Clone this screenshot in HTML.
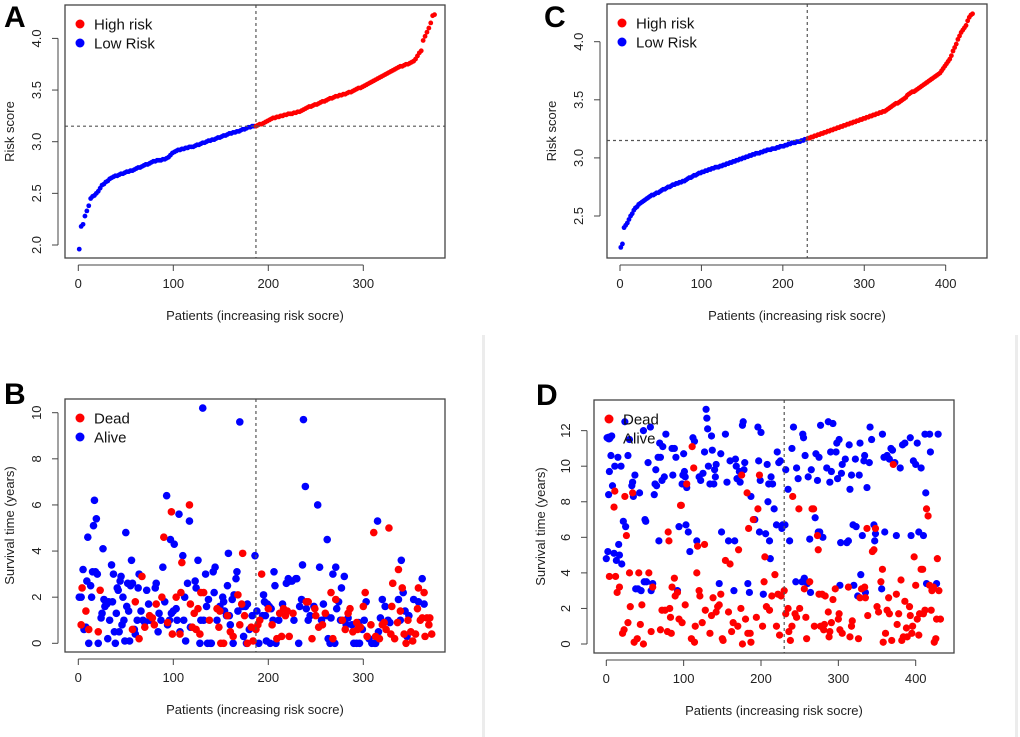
<!DOCTYPE html>
<html><head><meta charset="utf-8">
<style>
html,body{margin:0;padding:0;background:#fff;}
svg{display:block;font-family:"Liberation Sans",Arial,sans-serif;}
</style></head>
<body>
<svg id="fig" width="1020" height="737" viewBox="0 0 1020 737" xmlns="http://www.w3.org/2000/svg">
<rect x="0" y="0" width="1020" height="737" fill="#fff"/>
<rect x="482" y="335" width="3" height="402" fill="#ececec"/>
<rect x="1015" y="335" width="3" height="402" fill="#ececec"/>
</svg>
<script>
// ---- Panel A data (risk score, patients ordered; every 2nd patient) ----
const riskA = [1.96,2.18,2.2,2.28,2.33,2.38,2.45,2.47,2.48,2.5,
2.52,2.55,2.58,2.59,2.61,2.62,2.64,2.65,2.66,2.67,
2.67,2.68,2.69,2.69,2.7,2.71,2.71,2.72,2.72,2.73,
2.74,2.75,2.75,2.76,2.77,2.78,2.78,2.79,2.8,2.81,
2.81,2.82,2.82,2.82,2.83,2.83,2.84,2.85,2.87,2.89,
2.9,2.91,2.92,2.92,2.93,2.93,2.94,2.94,2.95,2.95,
2.95,2.96,2.97,2.97,2.98,2.99,2.99,3.0,3.01,3.01,
3.02,3.02,3.03,3.04,3.04,3.05,3.06,3.06,3.07,3.08,
3.08,3.09,3.09,3.1,3.1,3.11,3.12,3.12,3.13,3.14,
3.14,3.15,3.15,3.15,3.16,3.17,3.17,3.18,3.19,3.2,
3.21,3.22,3.23,3.23,3.24,3.24,3.25,3.25,3.26,3.26,
3.27,3.27,3.27,3.28,3.28,3.29,3.29,3.3,3.31,3.32,
3.33,3.34,3.34,3.35,3.36,3.36,3.37,3.38,3.39,3.39,
3.4,3.41,3.42,3.42,3.43,3.44,3.44,3.45,3.45,3.46,
3.46,3.47,3.48,3.48,3.49,3.5,3.51,3.52,3.52,3.53,
3.54,3.55,3.56,3.57,3.58,3.59,3.6,3.61,3.62,3.63,
3.64,3.65,3.66,3.67,3.68,3.69,3.7,3.71,3.72,3.73,
3.73,3.74,3.75,3.75,3.76,3.77,3.78,3.8,3.83,3.86,
3.88,3.98,4.02,4.06,4.1,4.15,4.22,4.23];
const cutA = 187;
const cutScoreA = 3.15;
// ---- Panel C data ----
const riskC = [2.23,2.26,2.4,2.42,2.44,2.47,2.5,2.52,2.55,2.57,
2.58,2.6,2.61,2.62,2.63,2.64,2.65,2.66,2.67,2.68,
2.68,2.69,2.7,2.7,2.71,2.72,2.73,2.73,2.74,2.75,
2.75,2.76,2.77,2.77,2.78,2.78,2.79,2.79,2.8,2.8,
2.81,2.82,2.83,2.83,2.84,2.85,2.85,2.86,2.87,2.87,
2.88,2.88,2.89,2.89,2.9,2.9,2.91,2.91,2.92,2.92,
2.92,2.93,2.93,2.94,2.94,2.95,2.95,2.96,2.96,2.97,
2.97,2.98,2.98,2.99,2.99,3.0,3.0,3.01,3.01,3.02,
3.02,3.03,3.03,3.04,3.04,3.04,3.05,3.05,3.06,3.06,
3.07,3.07,3.07,3.08,3.08,3.08,3.09,3.09,3.1,3.1,
3.1,3.11,3.11,3.12,3.12,3.13,3.13,3.13,3.14,3.14,
3.14,3.15,3.15,3.16,3.16,3.17,3.17,3.18,3.18,3.19,
3.19,3.2,3.2,3.21,3.21,3.22,3.22,3.23,3.23,3.24,
3.24,3.25,3.25,3.26,3.26,3.27,3.27,3.28,3.28,3.29,
3.29,3.3,3.3,3.31,3.31,3.32,3.32,3.33,3.33,3.34,
3.34,3.35,3.35,3.36,3.36,3.37,3.37,3.38,3.38,3.39,
3.39,3.4,3.4,3.41,3.42,3.43,3.44,3.45,3.46,3.47,
3.47,3.48,3.49,3.5,3.51,3.52,3.54,3.55,3.56,3.57,
3.57,3.58,3.59,3.6,3.61,3.62,3.63,3.64,3.65,3.66,
3.67,3.68,3.69,3.7,3.71,3.72,3.73,3.75,3.77,3.79,
3.81,3.83,3.85,3.88,3.92,3.95,3.98,4.02,4.05,4.08,
4.1,4.12,4.14,4.18,4.21,4.23,4.24];
const cutC = 230;
const cutScoreC = 3.15;
// ---- Panel B data: [patient, years] ----
const aliveB = [[1,2],[3,2],[5,3.2],[6,0.6],[8,0.7],[9,2.7],[10,4.6],[11,0],[13,2.5],[14,2],[15,3.1],[16,5.1],[17,6.2],[18,3.1],[19,5.4],[20,3],[21,0],[24,1.1],[25,1.3],[26,4.1],[27,1.9],[28,1.6],[29,1.8],[30,1.7],[31,0.2],[32,1.8],[33,1],[35,3.4],[36,1.8],[37,3],[38,0.5],[39,0],[40,1.3],[41,2.4],[42,2.3],[43,0.5],[44,2.7],[45,2.9],[46,0.8],[47,2],[48,1],[49,0.1],[50,4.8],[51,1.6],[52,2.6],[53,1.4],[54,0.1],[55,2.5],[56,3.6],[57,2.6],[59,0.6],[60,0.4],[62,1],[63,2.4],[64,3],[66,1.4],[68,1],[70,0.9],[72,2.3],[74,1.7],[75,1],[77,1],[81,2.4],[82,2.6],[84,0.5],[85,1.3],[87,1],[89,3.3],[91,1.8],[93,6.4],[94,0.8],[96,1],[97,4.5],[98,1.3],[100,1.4],[101,4.3],[103,1.5],[104,1],[106,5.6],[107,0.5],[110,3.8],[111,1],[112,2],[113,0.1],[115,2.6],[117,5.3],[118,0.7],[123,2.7],[124,2.4],[126,3.6],[128,0],[129,1],[131,10.2],[132,1],[134,3],[135,1.6],[136,0],[137,1.9],[139,0],[140,0],[142,3.1],[143,2.2],[144,3.3],[146,1],[149,1.6],[152,2],[153,1.8],[154,1.4],[156,1.2],[157,2.5],[158,3.9],[159,1.2],[160,0.8],[162,1.9],[163,0],[164,2.1],[166,2.8],[167,3.1],[168,1.4],[170,9.6],[173,1.6],[174,0.3],[176,1.6],[177,0],[178,1.7],[180,0.6],[183,1.2],[186,3.8],[188,1.4],[190,0],[194,1.2],[195,2.1],[196,1.8],[197,1.2],[198,0.1],[199,1.7],[201,1.6],[202,0],[203,1.5],[205,1],[206,3.1],[207,2.5],[208,0],[211,1],[215,1.7],[219,2.6],[221,2.8],[223,2.7],[225,2.7],[227,1],[229,2.8],[230,2.8],[232,0],[233,1.6],[235,1.9],[236,3.4],[237,9.7],[239,6.8],[240,1.5],[242,1],[244,1.2],[248,1.6],[252,6],[254,3.3],[256,1],[258,1.7],[261,1.2],[262,4.5],[263,0.2],[265,0],[266,1.1],[268,3],[270,0],[271,3.3],[272,1.5],[274,1.8],[276,1],[277,2.4],[280,2.9],[282,0.8],[284,1.1],[288,0.8],[290,0],[293,0],[295,0.9],[296,0],[299,0.6],[301,1],[303,1.8],[306,0.2],[309,0],[312,0],[313,0],[315,5.3],[316,0.5],[318,1.1],[320,1.9],[323,1.6],[326,1],[328,0.9],[337,1.9],[339,1],[340,3.6],[342,2.2],[344,1.4],[346,0.3],[348,1.2],[353,1.9],[358,1.8],[362,2.8],[364,1.7]];
const deadB = [[3,0.8],[4,2.4],[8,1.4],[11,0.6],[21,0.5],[23,2.3],[57,0.6],[60,1.8],[64,0.2],[67,2.9],[70,0.7],[75,1.2],[78,1.1],[80,0.8],[82,1.7],[88,2],[90,4.6],[94,0.9],[98,5.7],[99,0.4],[103,2],[107,0.4],[108,2.2],[109,3.5],[117,6],[118,1.7],[120,0.7],[122,1.3],[124,0.6],[126,1.5],[128,0.4],[129,2.2],[132,2.2],[138,1],[146,1.5],[148,0.7],[149,1.4],[150,0],[153,0],[157,1.2],[160,0.5],[163,0.3],[168,2.1],[170,0.8],[172,1.7],[173,3.9],[175,1.2],[178,0],[182,0.7],[184,0.1],[187,0.6],[189,0.8],[191,1],[193,3],[200,1.5],[204,0.8],[209,0.2],[212,1.3],[214,0.3],[216,1.5],[218,1.2],[220,1.4],[222,0.3],[226,1.3],[240,1.8],[242,1.8],[246,0.2],[249,1.5],[250,1.2],[253,0.7],[257,0.8],[260,1.3],[266,2.2],[268,0.2],[271,1.9],[278,1],[281,0.6],[284,1.3],[286,1.5],[289,0.5],[293,0.9],[294,0.6],[297,0.7],[300,1.6],[302,2.2],[304,0.3],[308,0.8],[311,4.8],[313,0.3],[317,0.2],[320,0.8],[322,0.9],[324,0.6],[327,5],[329,0.4],[330,1.6],[331,2.6],[333,0.2],[336,0.9],[337,3.2],[339,1.4],[341,2.4],[343,0.4],[345,0],[347,1],[350,0.5],[352,0.1],[355,0.4],[357,1.5],[358,2.4],[360,1],[362,1.1],[364,2.2],[365,0.3],[367,1.1],[369,0.8],[370,1.1],[372,0.4]];
// ---- Panel D data ----
const aliveD = [[0,4.8],[1,11.6],[2,5.2],[3,8.4],[4,9.7],[5,11.6],[6,10.6],[7,11.7],[8,8.9],[10,5.1],[11,10],[13,4.7],[15,10.5],[16,5.6],[17,5],[19,10],[20,4.5],[22,6.9],[24,12.5],[25,6.6],[28,10.6],[30,11.5],[33,8.9],[34,9.1],[35,8.3],[37,9.5],[38,3.1],[41,3.1],[43,8.5],[45,3],[48,12],[49,3.5],[50,7],[51,6.9],[52,3.5],[54,10.2],[57,12.2],[58,3],[60,3.4],[62,8.4],[63,9],[64,9.8],[65,8.9],[67,10.5],[68,5.8],[69,11.3],[70,10.5],[72,9.2],[73,11.1],[75,9.4],[77,11.8],[85,11],[86,9.5],[88,11],[90,10.5],[92,3],[94,6.6],[98,9],[99,9.5],[100,10.7],[101,9.7],[102,9.4],[103,6.7],[104,8.8],[106,6.3],[108,5.2],[112,11.6],[114,11.4],[117,5.8],[120,9.4],[122,9.2],[125,9.6],[127,10.8],[129,13.2],[130,12.7],[131,12.1],[132,10],[134,9],[136,11.7],[137,10.9],[139,9],[140,9.8],[141,9.4],[142,10.1],[146,3.4],[148,10.7],[149,6.3],[154,11.8],[156,9.1],[158,5.8],[160,10.3],[165,3],[166,5.8],[167,10.4],[168,10],[169,9.3],[172,9.7],[173,9.1],[176,12.3],[177,12.5],[178,9.8],[179,10.2],[183,3.4],[185,2.9],[187,8.3],[191,7],[192,7],[196,12.2],[197,10.3],[198,6.3],[199,9.2],[200,11.9],[203,2.8],[206,6.2],[208,10.1],[209,8],[210,9],[211,5.8],[212,4.8],[213,9.4],[215,9],[217,7.6],[220,6.7],[221,10.8],[223,10.2],[225,10.3],[227,6.5],[228,6.7],[231,6.7],[232,9.8],[235,8.7],[237,5.8],[240,11],[242,12.2],[245,3.5],[246,9.9],[248,9.3],[253,3.5],[254,11.8],[255,11.6],[256,3.7],[257,10.6],[260,3.4],[261,9.4],[263,5.9],[264,2.9],[265,9.8],[270,7.1],[271,10.7],[273,9.2],[274,6.3],[275,10.5],[276,6.3],[277,12.3],[280,6],[285,9.9],[287,12.5],[289,9.1],[290,10.8],[291,9.7],[293,12.4],[297,10.8],[298,11.3],[299,9.3],[301,11.5],[302,3.3],[303,5.7],[304,9.6],[305,10.1],[309,10.4],[311,5.7],[313,5.8],[314,11.2],[315,8.7],[317,9.5],[319,6.7],[320,3.3],[322,10.4],[323,6.6],[325,2.7],[327,9.5],[328,11.3],[329,3.9],[331,6.1],[333,10.3],[334,10.6],[335,2.9],[337,8.8],[340,10.2],[341,12.2],[343,11.5],[346,6.7],[347,5.8],[348,6.2],[356,3.1],[357,11.8],[359,10.5],[360,6.3],[363,10.6],[366,10.4],[368,11],[370,10.9],[373,10.2],[375,6.1],[380,9.9],[383,11.2],[386,11.3],[393,11.6],[394,6.1],[397,10.3],[400,10.1],[402,11.3],[404,6.3],[407,9.9],[410,6.1],[412,11.8],[413,8.5],[414,3.4],[418,11.8],[419,10.8],[427,3.4],[429,11.8]];
const deadD = [[4,3.8],[10,7.7],[11,8.6],[12,3.8],[14,2.9],[17,3.2],[21,0.6],[23,0.8],[24,8.3],[26,6.1],[28,1.2],[30,4],[31,2.1],[34,8.5],[36,0.1],[40,0.3],[42,4],[44,1.1],[46,2.2],[48,0],[55,4],[58,0.7],[60,3.2],[70,0.8],[72,1.9],[76,1.9],[79,0.7],[80,6.3],[81,5.8],[82,2],[83,1.5],[84,0.6],[85,3.2],[88,3.7],[89,2.7],[92,2.9],[94,1.4],[96,7.8],[97,7.8],[98,1.2],[102,2.2],[104,9],[110,0.3],[111,11.1],[113,9.9],[114,0.1],[115,1],[117,4],[118,5.5],[120,3],[121,2.7],[124,1.2],[127,5.6],[128,1.9],[134,0.6],[136,1.6],[138,2.6],[142,1.8],[144,2.1],[146,2.2],[148,2.8],[150,0.3],[151,0.2],[154,4.7],[158,1.8],[160,4.5],[162,0.7],[164,1.2],[170,1],[171,5.3],[174,2],[175,9.5],[176,0],[180,1.4],[182,8.5],[183,0.6],[184,6.5],[186,0.6],[187,0.1],[190,7],[194,1.5],[196,7.6],[198,9.5],[202,1],[204,3.5],[205,4.9],[207,2.1],[211,1.9],[214,2.7],[218,3.9],[220,1],[222,2.8],[224,0.5],[226,2.7],[230,3],[232,1.7],[235,2],[236,0.7],[238,0.2],[240,1],[241,8.3],[244,1.7],[246,1.5],[249,7.6],[250,2],[256,3.1],[258,1.5],[259,0.3],[263,3.5],[266,7.6],[268,7.6],[269,1],[273,6.1],[274,5.3],[275,2.8],[277,1],[279,2.8],[281,0.8],[282,1.1],[283,2.7],[287,1.8],[288,0.4],[289,0.7],[291,1.2],[293,2.5],[296,3.1],[300,1.4],[301,1.7],[302,0.8],[305,0.6],[313,3.2],[315,0.4],[317,1],[318,1.3],[326,0.3],[328,2.6],[330,3.1],[334,3.2],[335,2.6],[337,6.5],[338,1.6],[344,5.2],[346,5.3],[348,6.5],[350,2.1],[352,1.8],[355,3.5],[357,4.2],[358,0.1],[361,0.6],[363,1.9],[365,2.6],[366,1.7],[369,0.2],[371,10.1],[375,2.8],[376,1.1],[378,1.7],[381,3.6],[382,0.2],[384,0.4],[386,2.4],[388,0.9],[389,0.4],[392,2.1],[393,1.6],[395,0.6],[396,1],[398,4.9],[400,3.3],[402,1.4],[404,0.5],[405,1.7],[407,4.2],[409,4.2],[410,1.7],[412,1.9],[414,7.6],[416,7.2],[418,3.3],[420,1.9],[421,3],[423,3.2],[424,0.1],[426,0.3],[427,1.4],[428,4.8],[430,3],[432,1.4]];
const xTicksAB = [0,100,200,300];
const xTicksCD = [0,100,200,300,400];
const yTicksA = [2.0,2.5,3.0,3.5,4.0];
const yTicksC = [2.5,3.0,3.5,4.0];
const yTicksB = [0,2,4,6,8,10];
const yTicksD = [0,2,4,6,8,10,12];

const NS='http://www.w3.org/2000/svg';
const svg=document.getElementById('fig');
function mk(tag,attrs,parent){const e=document.createElementNS(NS,tag);for(const k in attrs)e.setAttribute(k,attrs[k]);(parent||svg).appendChild(e);return e;}
function txt(s,attrs,parent){const e=mk('text',attrs,parent);e.textContent=s;return e;}

function panel(cfg){
  const g=mk('g',{});
  
  
  const sx=v=>cfg.x0px+(v-cfg.x0v)*cfg.xs;
  const sy=v=>cfg.y0px-(v-cfg.y0v)*cfg.ys;
  const b=cfg.box;
  // marks
  cfg.series.forEach(s=>{
    s.pts.forEach(p=>{
      const c=mk('circle',{cx:sx(p[0]).toFixed(2),cy:sy(p[1]).toFixed(2),r:cfg.r,fill:s.color},g);
      
      
    });
  });
  // cut lines
  const vl=mk('line',{x1:sx(cfg.cut),x2:sx(cfg.cut),y1:b[1],y2:b[3],stroke:'#555','stroke-width':1.2,'stroke-dasharray':'3,3'},g);
  
  
  if(cfg.hcut!==undefined){
    const hl=mk('line',{x1:b[0],x2:b[2],y1:sy(cfg.hcut),y2:sy(cfg.hcut),stroke:'#555','stroke-width':1.2,'stroke-dasharray':'3,3'},g);
    
    
  }
  const fr=mk('rect',{x:b[0],y:b[1],width:b[2]-b[0],height:b[3]-b[1],fill:'none',stroke:'#444','stroke-width':1.3},g);
  
  
  // x axis
  const xa=mk('g',{},g);
  
  
  const xt=cfg.xticks;
  mk('line',{x1:sx(xt[0]),x2:sx(xt[xt.length-1]),y1:b[3]+7,y2:b[3]+7,stroke:'#444','stroke-width':1},xa);
  xt.forEach(v=>{
    mk('line',{x1:sx(v),x2:sx(v),y1:b[3]+7,y2:b[3]+13,stroke:'#444','stroke-width':1},xa);
    const t=txt(String(v),{x:sx(v),y:b[3]+30,'text-anchor':'middle','font-size':13,fill:'#222'},xa);
    
    
  });
  const xtitle=txt('Patients (increasing risk socre)',{x:(b[0]+b[2])/2,y:b[3]+62,'text-anchor':'middle','font-size':13,fill:'#222'},g);
  
  
  // y axis
  const ya=mk('g',{},g);
  
  
  const yt=cfg.yticks;
  const ax=b[0]-7;
  mk('line',{x1:ax,x2:ax,y1:sy(yt[0]),y2:sy(yt[yt.length-1]),stroke:'#444','stroke-width':1},ya);
  yt.forEach(v=>{
    mk('line',{x1:ax-6,x2:ax,y1:sy(v),y2:sy(v),stroke:'#444','stroke-width':1},ya);
    const lx=ax-17;
    const t=txt(cfg.yfmt(v),{x:lx,y:sy(v),'text-anchor':'middle','font-size':13,fill:'#222',transform:`rotate(-90 ${lx} ${sy(v)})`},ya);
    
    
  });
  const tyx=cfg.ytitleX, tyy=(b[1]+b[3])/2;
  const yti=txt(cfg.ytitle,{x:tyx,y:tyy,'text-anchor':'middle','font-size':13,fill:'#222',transform:`rotate(-90 ${tyx} ${tyy})`},g);
  
  
  // legend
  const lg=mk('g',{},g);
  
  
  cfg.legend.forEach((l,i)=>{
    const ly=b[1]+cfg.legY+i*19;
    mk('circle',{cx:b[0]+15,cy:ly,r:4.5,fill:l[1]},lg);
    const t=txt(l[0],{x:b[0]+29,y:ly+5.5,'font-size':15,fill:'#111'},lg);
    
    
  });
  const pl=txt(cfg.letter,{x:cfg.lx,y:cfg.ly,'font-size':30,'font-weight':'bold',fill:'#000'},g);
  
  
}

function riskSeries(arr,cut){
  const lo=[],hi=[];
  arr.forEach((v,i)=>{const p=[i*2+1,v]; (p[0]<cut?lo:hi).push(p);});
  return [{pts:lo,color:'#0000ff',mark:'low-risk-point'},{pts:hi,color:'#ff0000',mark:'high-risk-point'}];
}

panel({name:'panel-a-risk-score',box:[65,5,445,258],x0px:78.3,x0v:0,xs:0.95,y0px:245,y0v:2.0,ys:103.3,
  r:2.4,series:riskSeries(riskA,cutA),cut:cutA,hcut:cutScoreA,xticks:xTicksAB,yticks:yTicksA,yfmt:v=>v.toFixed(1),
  ytitle:'Risk score',ytitleX:14,legend:[['High risk','#ff0000'],['Low Risk','#0000ff']],legY:19,letter:'A',lx:4,ly:27});
panel({name:'panel-b-survival',box:[65,399,445,652],x0px:78.3,x0v:0,xs:0.95,y0px:643.3,y0v:0,ys:23.06,
  r:3.8,series:[{pts:aliveB,color:'#0000ff',mark:'alive-point'},{pts:deadB,color:'#ff0000',mark:'dead-point'}],cut:cutA,xticks:xTicksAB,yticks:yTicksB,yfmt:v=>String(v),
  ytitle:'Survival time (years)',ytitleX:14,legend:[['Dead','#ff0000'],['Alive','#0000ff']],legY:19,letter:'B',lx:4,ly:404});
panel({name:'panel-c-risk-score',box:[607,4,987,258],x0px:620,x0v:0,xs:0.8142,y0px:216,y0v:2.5,ys:116.2,
  r:2.4,series:riskSeries(riskC,cutC),cut:cutC,hcut:cutScoreC,xticks:xTicksCD,yticks:yTicksC,yfmt:v=>v.toFixed(1),
  ytitle:'Risk score',ytitleX:556,legend:[['High risk','#ff0000'],['Low Risk','#0000ff']],legY:19,letter:'C',lx:544,ly:27});
panel({name:'panel-d-survival',box:[594,400,954,653],x0px:606.3,x0v:0,xs:0.7735,y0px:644,y0v:0,ys:17.78,
  r:3.6,series:[{pts:aliveD,color:'#0000ff',mark:'alive-point'},{pts:deadD,color:'#ff0000',mark:'dead-point'}],cut:cutC,xticks:xTicksCD,yticks:yTicksD,yfmt:v=>String(v),
  ytitle:'Survival time (years)',ytitleX:545,legend:[['Dead','#ff0000'],['Alive','#0000ff']],legY:19,letter:'D',lx:536,ly:405});
</script>
</body></html>
